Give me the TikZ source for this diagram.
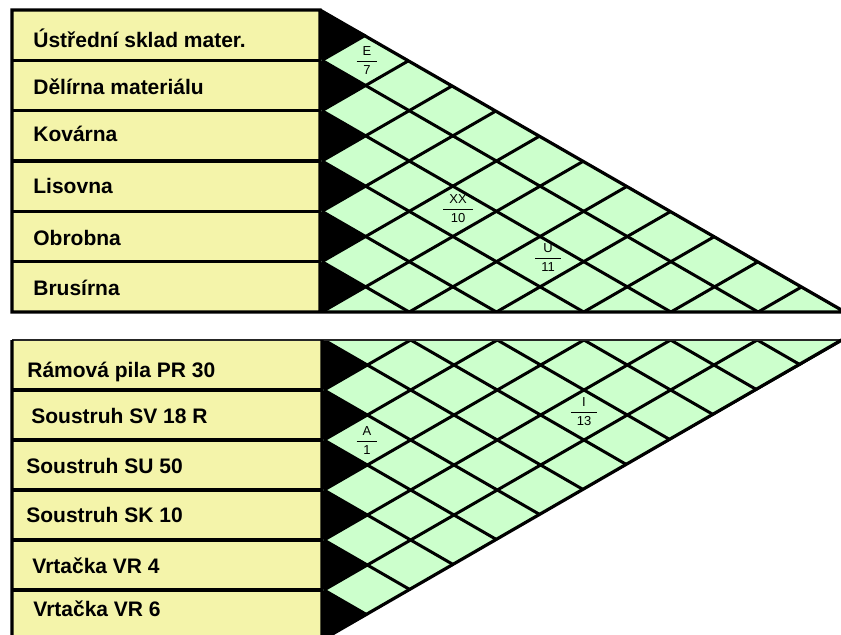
\documentclass[tikz,border=0pt]{standalone}
\usepackage{fontspec}
\setmainfont{Liberation Sans}
\definecolor{cellyellow}{RGB}{244,244,170}
\definecolor{meshgreen}{RGB}{204,255,204}
\newcommand{\ratiotext}[2]{{\renewcommand{\arraystretch}{1.3}%
  \begin{tabular}{@{\hspace{3pt}}c@{\hspace{3pt}}}#1\\\hline #2\end{tabular}}}

\begin{document}
\begin{tikzpicture}[x=0.5pt, y=-0.5pt,
  rowtext/.style={anchor=base west, inner sep=0pt, font=\fontsize{10.5}{12}\selectfont\bfseries},
  ratio/.style={inner sep=0pt, font=\fontsize{6.5}{7}\selectfont},
  border/.style={line width=1.6pt},
  meshline/.style={line width=1.5pt}]
  \useasboundingbox (0,0) rectangle (841,634);
  \clip (0,0) rectangle (841,634);
  \def\slope{0.577}

  % upper chart: workshops
  \fill[cellyellow] (12,10) rectangle (320,312);
  \fill[meshgreen] (320,10) -- (845,312) -- (320,312) -- cycle;
  \foreach \k in {0,...,5}
    \fill (320,{10+50.33*\k}) -- (367,{35.17+50.33*\k}) -- (320,{60.33+50.33*\k}) -- cycle;
  \begin{scope}
    \clip (320,10) -- (845,312) -- (320,312) -- cycle;
    \foreach \k in {-6,...,12} {
      \draw[meshline] (322,{10+50.33*\k}) -- ++(600,{600*\slope});
      \draw[meshline] (322,{10+50.33*\k}) -- ++(600,{-600*\slope});
    }
  \end{scope}
  \draw[border] (12,312) rectangle (320,10) -- (845,312) -- (12,312);
  \foreach \k in {1,...,5}
    \draw[border] (12,{10+50.33*\k}) -- (320,{10+50.33*\k});
  \foreach \y/\name [count=\i] in {47/Ústřední sklad mater., 94/Dělírna materiálu,
      141/Kovárna, 193/Lisovna, 245/Obrobna, 295/Brusírna}
    \node[rowtext] (ws\i) at (33,\y) {\name};
  \node[ratio] (e7) at (367,61) {\ratiotext{E}{7}};
  \node[ratio] (xx10) at (458,209) {\ratiotext{XX}{10}};
  \node[ratio] (u11) at (548,258) {\ratiotext{U}{11}};

  % lower chart: machines
  \fill[cellyellow] (12,340) rectangle (322,640);
  \fill[meshgreen] (322,340) -- (845,340) -- (322,640) -- cycle;
  \foreach \k in {0,...,5}
    \fill (322,{340+50*\k}) -- (368,{365+50*\k}) -- (322,{390+50*\k}) -- cycle;
  \begin{scope}
    \clip (322,340) -- (845,340) -- (322,640) -- cycle;
    \foreach \k in {-6,...,12} {
      \draw[meshline] (324,{340+50*\k}) -- ++(600,{600*\slope});
      \draw[meshline] (324,{340+50*\k}) -- ++(600,{-600*\slope});
    }
  \end{scope}
  \draw[line width=1pt, black!85] (12,340) -- (841,340);
  \draw[border] (12,340) -- (12,640) (322,340) -- (322,640) (322,640) -- (845,338);
  \foreach \k in {1,...,5}
    \draw[border] (12,{340+50*\k}) -- (322,{340+50*\k});
  \foreach \x/\y/\name [count=\i] in {27/377/Rámová pila PR 30, 31/423/Soustruh SV 18 R,
      26/473/Soustruh SU 50, 26/522/Soustruh SK 10, 32/573/Vrtačka VR 4, 33/616/Vrtačka VR 6}
    \node[rowtext] (mc\i) at (\x,\y) {\name};
  \node[ratio] (a1) at (367,441) {\ratiotext{A}{1}};
  \node[ratio] (i13) at (584,412) {\ratiotext{I}{13}};
\end{tikzpicture}
\end{document}
